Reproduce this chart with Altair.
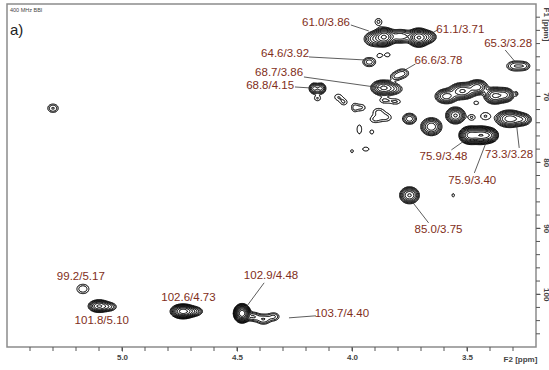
import numpy as np
import pandas as pd
import altair as alt

alt.data_transformers.disable_max_rows()

# HSQC cross peaks: 1H shift (F2), 13C shift (F1), height, line widths (ppm)
peak_f2 = [3.90, 3.86, 3.79, 3.71, 3.67, 3.885, 3.88, 3.845,
           3.925, 3.81, 3.78, 3.865, 3.82, 4.165, 4.135,
           4.15, 4.06, 3.99, 4.035, 3.96, 3.885, 3.86, 3.81, 3.90, 3.85,
           3.968, 3.914, 4.00, 3.94, 3.46,
           3.29, 3.25,
           3.59, 3.52, 3.455, 3.38, 3.335, 3.285,
           3.315, 3.26, 3.55, 3.655, 3.48, 3.42, 3.75,
           3.485, 3.44, 3.405,
           3.75, 3.56, 5.30,
           5.17, 5.10, 5.055, 4.735, 4.69, 4.478, 4.43, 4.385, 4.34]
peak_f1 = [61.3, 61.0, 60.9, 61.1, 61.0, 58.7, 63.8, 63.7,
           64.8, 67.0, 66.5, 68.7, 68.9, 68.8, 68.8,
           70.3, 70.1, 71.7, 70.9, 71.7, 72.3, 70.6, 70.8, 73.5, 73.2,
           75.0, 75.4, 78.3, 78.0, 71.0,
           65.4, 65.4,
           70.0, 69.2, 68.6, 69.9, 69.8, 69.6,
           73.4, 73.5, 72.9, 74.6, 73.2, 73.0, 73.4,
           75.9, 75.9, 75.9,
           85.0, 85.0, 71.8,
           99.2, 101.8, 101.9, 102.6, 102.6, 102.9, 103.4, 103.8, 103.4]
peak_amp = [6, 20, 6, 20, 5, 1.6, 1.4, 1.4,
            2.6, 2.0, 2.3, 10, 3, 5, 5,
            1.5, 1.4, 1.4, 1.4, 1.5, 1.5, 1.5, 1.5, 1.5, 1.5,
            1.4, 1.4, 1.3, 1.4, 1.4,
            3, 2,
            8, 10, 8, 10, 7, 1.4,
            12, 5, 10, 9, 1.5, 1.5, 4,
            25, 25, 15,
            10, 1.4, 2.2,
            2.0, 10, 3, 25, 5, 40, 3, 3, 2.2]
peak_w2 = [0.025, 0.02, 0.03, 0.02, 0.02, 0.015, 0.012, 0.012,
           0.02, 0.018, 0.02, 0.025, 0.025, 0.012, 0.012,
           0.014, 0.018, 0.012, 0.015, 0.018, 0.022, 0.02, 0.022, 0.022, 0.022,
           0.012, 0.01, 0.008, 0.016, 0.012,
           0.025, 0.018,
           0.024, 0.028, 0.022, 0.022, 0.02, 0.006,
           0.028, 0.022, 0.02, 0.022, 0.014, 0.022, 0.018,
           0.02, 0.02, 0.018,
           0.02, 0.006, 0.018,
           0.022, 0.022, 0.02, 0.022, 0.022, 0.014, 0.018, 0.02, 0.018]
peak_w1 = [0.6, 0.6, 0.55, 0.6, 0.5, 0.5, 0.35, 0.35,
           0.5, 0.45, 0.5, 0.55, 0.5, 0.45, 0.45,
           0.4, 0.5, 0.6, 0.45, 0.5, 0.5, 0.4, 0.4, 0.5, 0.55,
           0.8, 0.35, 0.3, 0.35, 0.3,
           0.5, 0.45,
           0.55, 0.6, 0.55, 0.6, 0.55, 0.3,
           0.6, 0.5, 0.6, 0.65, 0.45, 0.6, 0.5,
           0.55, 0.55, 0.5,
           0.6, 0.3, 0.5,
           0.6, 0.45, 0.4, 0.45, 0.4, 0.55, 0.45, 0.5, 0.45]

# Assignment labels (13C/1H) and where they sit
label_text = ["61.0/3.86", "61.1/3.71", "65.3/3.28", "64.6/3.92", "66.6/3.78",
              "68.7/3.86", "68.8/4.15", "75.9/3.48", "73.3/3.28", "75.9/3.40",
              "85.0/3.75", "99.2/5.17", "101.8/5.10", "102.6/4.73",
              "102.9/4.48", "103.7/4.40"]
label_f2 = [4.113, 3.529, 3.321, 4.291, 3.624, 4.317, 4.356, 3.602, 3.317,
            3.477, 3.624, 5.179, 5.088, 4.711, 4.352, 4.044]
label_f1 = [58.88, 59.94, 62.06, 63.58, 64.64, 66.45, 68.42, 79.18, 78.88,
            82.82, 90.24, 97.36, 104.03, 100.55, 97.21, 102.97]

# Leader lines from label to cross peak
lead_f2 = [4.005, 3.628, 3.334, 4.187, 3.724, 4.209, 4.248, 3.568, 3.273,
           3.468, 3.667, 4.382, 4.157]
lead_f1 = [59.18, 59.94, 62.97, 64.03, 65.09, 67.06, 68.58, 78.12, 77.82,
           81.61, 89.18, 98.27, 103.27]
lead_to_f2 = [3.927, 3.667, 3.290, 3.935, 3.784, 3.871, 4.179, 3.494, 3.286,
              3.411, 3.741, 4.469, 4.274]
lead_to_f1 = [60.09, 60.70, 64.79, 64.50, 66.30, 68.73, 68.73, 76.30, 73.88,
              76.45, 85.85, 102.36, 103.58]

# Axis ticks: labelled majors and unlabelled minors
f2_major = [5.0, 4.5, 4.0, 3.5]
f2_minor = [round(5.4 - 0.1 * i, 1) for i in range(22)]
f1_major = [70, 80, 90, 100]
f1_minor = list(range(58, 108, 2))

header_text = ["400 MHz BBI", "a)"]

F2_DOMAIN = [5.5, 3.2]
F1_DOMAIN = [108, 56]
PLOT_W, PLOT_H = 529, 343

# Sum of 2D Gaussian line shapes on a grid
gx = np.arange(5.5, 3.2 - 1e-9, -0.004)
gy = np.arange(56.0, 108.0 + 1e-9, 0.15)
X, Y = np.meshgrid(gx, gy)
Z = np.zeros_like(X)
for x0, y0, a, sx, sy in zip(peak_f2, peak_f1, peak_amp, peak_w2, peak_w1):
    Z += a * np.exp(-0.5 * ((X - x0) / sx) ** 2 - 0.5 * ((Y - y0) / sy) ** 2)


def contour_segments(z, xv, yv, level):
    """Marching squares: line segments of the iso-line z == level."""
    a = z[:-1, :-1]
    b = z[:-1, 1:]
    c = z[1:, 1:]
    d = z[1:, :-1]
    x0 = np.broadcast_to(xv[:-1][None, :], a.shape)
    x1 = np.broadcast_to(xv[1:][None, :], a.shape)
    y0 = np.broadcast_to(yv[:-1][:, None], a.shape)
    y1 = np.broadcast_to(yv[1:][:, None], a.shape)

    def cross(p, q):
        f = (p >= level) != (q >= level)
        with np.errstate(divide="ignore", invalid="ignore"):
            t = np.where(f, (level - p) / (q - p), 0.0)
        return f, t

    f0, t0 = cross(a, b)
    f1, t1 = cross(b, c)
    f2, t2 = cross(d, c)
    f3, t3 = cross(a, d)
    ex = np.stack([x0 + t0 * (x1 - x0), x1, x0 + t2 * (x1 - x0), x0])
    ey = np.stack([y0, y0 + t1 * (y1 - y0), y1, y0 + t3 * (y1 - y0)])
    fl = np.stack([f0, f1, f2, f3])
    n = fl.sum(0)
    out = []
    m2 = n == 2
    if m2.any():
        order = np.argsort(~fl, axis=0, kind="stable")
        i0 = order[0][m2]
        i1 = order[1][m2]
        exm = ex[:, m2]
        eym = ey[:, m2]
        k = np.arange(m2.sum())
        out.append(np.column_stack([exm[i0, k], eym[i0, k], exm[i1, k], eym[i1, k]]))
    m4 = n == 4
    if m4.any():
        out.append(np.column_stack([ex[0][m4], ey[0][m4], ex[1][m4], ey[1][m4]]))
        out.append(np.column_stack([ex[2][m4], ey[2][m4], ex[3][m4], ey[3][m4]]))
    return out


levels = [1.0 * 1.45 ** k for k in range(12)]
parts = []
for lv in levels:
    parts.extend(contour_segments(Z, gx, gy, lv))
seg = np.vstack(parts)
contour_df = pd.DataFrame({
    "x": np.round(seg[:, 0], 4), "y": np.round(seg[:, 1], 3),
    "x2": np.round(seg[:, 2], 4), "y2": np.round(seg[:, 3], 3),
})

label_df = pd.DataFrame({"x": label_f2, "y": label_f1, "t": label_text})
lead_df = pd.DataFrame({"x": lead_f2, "y": lead_f1, "x2": lead_to_f2, "y2": lead_to_f1})

xscale = alt.Scale(domain=F2_DOMAIN, nice=False, zero=False)
yscale = alt.Scale(domain=F1_DOMAIN, nice=False, zero=False)

x_axis = alt.Axis(
    values=f2_major, format=".1f",
    tickSize=4, tickColor="#555", domain=False, grid=False,
    labelFontSize=8, labelFontWeight="bold", labelColor="#444", labelPadding=2,
    labelFont="Liberation Sans",
    title="F2 [ppm]", titleX=513, titleY=12, titleAlign="center",
    titleBaseline="middle", titleFontSize=8, titleFontWeight="bold",
    titleColor="#444", titleFont="Liberation Sans",
)
y_axis = alt.Axis(
    orient="right",
    values=f1_major, format="d",
    tickSize=4, tickColor="#555", domain=False, grid=False,
    labelFontSize=8, labelFontWeight="bold", labelColor="#444", labelPadding=1,
    labelAngle=90, labelAlign="center", labelBaseline="bottom",
    labelFont="Liberation Sans",
    title="F1 [ppm]", titleAngle=90, titleX=5, titleY=20, titleAlign="center",
    titleBaseline="bottom", titleFontSize=8, titleFontWeight="bold",
    titleColor="#444", titleFont="Liberation Sans",
)

contours = alt.Chart(contour_df).mark_rule(
    color="black", strokeWidth=0.6, strokeCap="round", clip=True
).encode(
    x=alt.X("x:Q", scale=xscale, axis=x_axis),
    x2="x2:Q",
    y=alt.Y("y:Q", scale=yscale, axis=y_axis),
    y2="y2:Q",
)

# Minor tick marks outside the frame
x_minor = alt.Chart(pd.DataFrame({"x": f2_minor})).mark_rule(
    color="#555", strokeWidth=1
).encode(x=alt.X("x:Q", scale=xscale), y=alt.value(PLOT_H), y2=alt.value(PLOT_H + 4))

y_minor = alt.Chart(pd.DataFrame({"y": f1_minor})).mark_rule(
    color="#555", strokeWidth=1
).encode(y=alt.Y("y:Q", scale=yscale), x=alt.value(PLOT_W), x2=alt.value(PLOT_W + 4))

leaders = alt.Chart(lead_df).mark_rule(color="#333", strokeWidth=0.8).encode(
    x=alt.X("x:Q", scale=xscale), x2="x2:Q",
    y=alt.Y("y:Q", scale=yscale), y2="y2:Q",
)

labels = alt.Chart(label_df).mark_text(
    font="Liberation Sans", fontSize=11.5, color="#7f2e20",
    align="center", baseline="middle",
).encode(
    x=alt.X("x:Q", scale=xscale),
    y=alt.Y("y:Q", scale=yscale),
    text="t:N",
)

spectro = alt.Chart(pd.DataFrame({"t": [header_text[0]]})).mark_text(
    font="Liberation Sans", fontSize=5.5, color="#444", align="left", baseline="middle"
).encode(x=alt.value(3), y=alt.value(6), text="t:N")

panel = alt.Chart(pd.DataFrame({"t": [header_text[1]]})).mark_text(
    font="Liberation Sans", fontSize=15, color="#222", align="left", baseline="middle"
).encode(x=alt.value(3), y=alt.value(26), text="t:N")

chart = alt.layer(contours, x_minor, y_minor, leaders, labels, spectro, panel).properties(
    width=PLOT_W,
    height=PLOT_H,
    padding={"left": 7, "top": 4, "right": 13, "bottom": 23},
    autosize=alt.AutoSizeParams(type="none"),
).configure(
    font="Liberation Sans",
    view=alt.ViewConfig(stroke="#8c8c8c", strokeWidth=1.5),
)

chart.save("out.html", embed_options={"renderer": "svg", "actions": False})
